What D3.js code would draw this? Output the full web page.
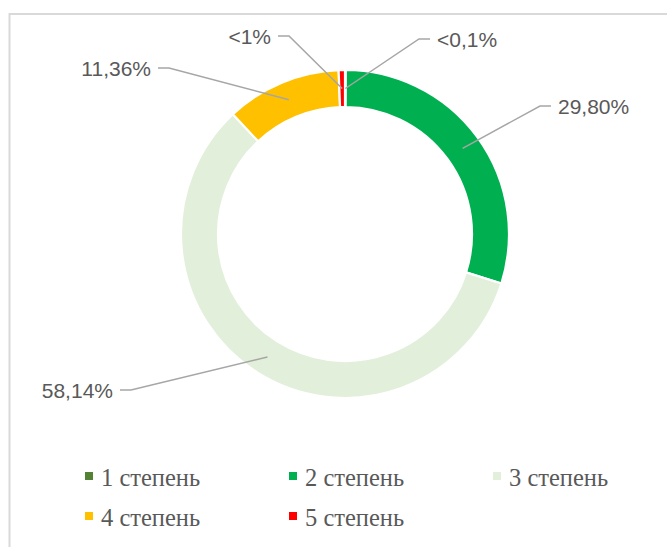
<!DOCTYPE html>
<html>
<head>
<meta charset="utf-8">
<script src="https://cdn.jsdelivr.net/npm/d3@7"></script>
<style>
    body { margin: 0; background: #ffffff; }
</style>
</head>
<body>
<div id="chart"></div>
<script>
let width = 667;
let height = 547;

// data
let categories = ["1 степень", "2 степень", "3 степень", "4 степень", "5 степень"];
let values = [0.08, 29.80, 58.14, 11.36, 0.62];
let valueLabels = ["<0,1%", "29,80%", "58,14%", "11,36%", "<1%"];
let colors = ["#548235", "#00B050", "#E2EFDA", "#FFC000", "#FF0000"];

// where the data labels sit (text x, text y, side of the leader line)
let labelPos = [
    { x: 437, y: 40, side: "start" },
    { x: 558, y: 107, side: "start" },
    { x: 113, y: 391, side: "end" },
    { x: 151, y: 69, side: "end" },
    { x: 271, y: 37, side: "end" }
];

let center = { x: 345, y: 234 };
let outerR = 164;
let innerR = 127;

let svg = d3.select("#chart")
    .append("svg")
    .attr("width", width)
    .attr("height", height);

svg.append("rect")
    .attr("width", width)
    .attr("height", height)
    .attr("fill", "#ffffff");

// chart area border (runs off the right and bottom edge)
svg.append("rect")
    .attr("x", 9.5)
    .attr("y", 14)
    .attr("width", 700)
    .attr("height", 600)
    .attr("fill", "none")
    .attr("stroke", "#d9d9d9")
    .attr("stroke-width", 2);

let pie = d3.pie()
    .sort(null)
    .value(d => d);

let arc = d3.arc()
    .innerRadius(innerR)
    .outerRadius(outerR);

let arcs = pie(values);

let g = svg.append("g")
    .attr("transform", "translate(" + center.x + "," + center.y + ")");

g.selectAll("path")
    .data(arcs)
    .enter()
    .append("path")
    .attr("d", arc)
    .attr("fill", (d, i) => colors[i])
    .attr("stroke", "#ffffff")
    .attr("stroke-width", 2.2);

// leader lines
let line = d3.line();

svg.selectAll(".leader")
    .data(arcs)
    .enter()
    .append("path")
    .attr("class", "leader")
    .attr("fill", "none")
    .attr("stroke", "#a6a6a6")
    .attr("stroke-width", 1.5)
    .attr("d", function (d, i) {
        let p = labelPos[i];
        let c = arc.centroid(d);
        let dir = p.side == "start" ? -1 : 1;
        let x0 = p.x + dir * 7;
        let x1 = x0 + dir * 11;
        let ly = p.y - 1;
        return line([[x0, ly], [x1, ly], [center.x + c[0], center.y + c[1]]]);
    });

svg.selectAll(".label")
    .data(arcs)
    .enter()
    .append("text")
    .attr("class", "label")
    .attr("x", (d, i) => labelPos[i].x)
    .attr("y", (d, i) => labelPos[i].y)
    .attr("dy", "0.35em")
    .attr("text-anchor", (d, i) => labelPos[i].side)
    .attr("font-family", "Liberation Sans, Arial, sans-serif")
    .attr("font-size", 21)
    .attr("fill", "#595959")
    .text((d, i) => valueLabels[i]);

// legend
let legend = svg.selectAll(".legend")
    .data(categories)
    .enter()
    .append("g")
    .attr("class", "legend")
    .attr("transform", function (d, i) {
        let col = i % 3;
        let row = Math.floor(i / 3);
        return "translate(" + (85 + col * 204) + "," + (477 + row * 40) + ")";
    });

legend.append("rect")
    .attr("x", 0)
    .attr("y", -5)
    .attr("width", 8)
    .attr("height", 8)
    .attr("fill", (d, i) => colors[i]);

legend.append("text")
    .attr("x", 16)
    .attr("y", 0)
    .attr("dy", "0.35em")
    .attr("font-family", "Liberation Serif, Times New Roman, serif")
    .attr("font-size", 24.5)
    .attr("fill", "#595959")
    .text(d => d);
</script>
</body>
</html>
